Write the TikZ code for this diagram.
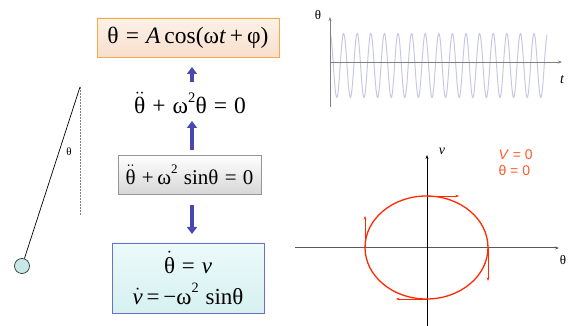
\documentclass[tikz,border=0pt]{standalone}
\usepackage{fontspec}
\setmainfont{Liberation Serif}
\newfontfamily\sfont{Liberation Sans}
\usetikzlibrary{arrows.meta,shadings}
\definecolor{arrblue}{HTML}{4848B0}
\definecolor{redc}{HTML}{FF2A00}
\definecolor{orangetxt}{HTML}{FF5A2A}
\definecolor{solborder}{RGB}{245,170,70}
\definecolor{soltop}{RGB}{253,242,232}
\definecolor{solbot}{RGB}{248,222,204}
\definecolor{nlborder}{RGB}{150,150,150}
\definecolor{nlbot}{RGB}{215,215,215}
\definecolor{sysborder}{RGB}{110,110,210}
\definecolor{systop}{RGB}{236,250,250}
\definecolor{sysbot}{RGB}{214,240,240}
\definecolor{bobfill}{RGB}{200,232,232}
\definecolor{bobdraw}{RGB}{40,60,60}
\definecolor{wavec}{RGB}{200,200,225}
\definecolor{axgray}{RGB}{90,90,90}
\newcommand\thdd{\ensuremath{\ddot{\hbox{θ}}}}
\newcommand\thd{\ensuremath{\dot{\hbox{θ}}}}
\newcommand\vd{\ensuremath{\dot{\hbox{\itshape v}}}}
\newcommand\sqr{\raisebox{0.5em}{\scalebox{0.62}{2}}}
\newcommand\gapsp{\hspace{0.3em}}
\tikzset{
  eqbox/.style={draw, line width=0.8pt, inner sep=0pt},
  bigarrow/.style={arrblue, line width=3.5pt, -{Triangle[width=10pt,length=7pt]}},
  axisarrow/.style={-{Stealth[length=4pt,width=3pt]}},
  redarrow/.style={redc, line width=0.5pt, -{Stealth[length=3.5pt,width=2.5pt]}},
}
\begin{document}
\begin{tikzpicture}[x=1pt,y=-1pt]
\useasboundingbox (0,0) rectangle (574,326);
% top box
\node[eqbox, draw=solborder, top color=soltop, bottom color=solbot, minimum width=182pt, minimum height=39pt, font=\fontsize{23.5}{26}\selectfont] (sol) at (188,37.5) {θ\gapsp=\gapsp\textit{A}\,cos(ω\textit{t}\,+\,φ)};
% linear eq
\node[font=\fontsize{23.5}{26}\selectfont] (lin) at (190,103) {\thdd\gapsp+\gapsp ω\sqr θ\gapsp=\gapsp0};
% gray box
\node[eqbox, draw=nlborder, top color=white, bottom color=nlbot, minimum width=143pt, minimum height=39pt, font=\fontsize{21}{24}\selectfont] (nl) at (189.5,174.5) {\thdd\gapsp+\,ω\sqr\gapsp sinθ\gapsp=\gapsp0};
% bottom box
\node[eqbox, draw=sysborder, top color=systop, bottom color=sysbot, minimum width=152pt, minimum height=70pt, align=center, font=\fontsize{23}{31}\selectfont] (sys) at (188,278) {\thd\gapsp=\gapsp\textit{v}\\ \vd\,=\,−ω\sqr\gapsp sinθ};
% arrows
\coordinate (a1s) at (192,82); \coordinate (a1e) at (192,67);
\draw[bigarrow] (a1s) -- (a1e);
\coordinate (a2s) at (192,150); \coordinate (a2e) at (192,121);
\draw[bigarrow] (a2s) -- (a2e);
\coordinate (a3s) at (192,205); \coordinate (a3e) at (192,234);
\draw[bigarrow] (a3s) -- (a3e);
% pendulum
\coordinate (piv) at (80,87);
\coordinate (vbot) at (80,215);
\draw[densely dotted, gray, line width=0.5pt] (piv) -- (vbot);
\node[circle, draw=bobdraw, fill=bobfill, line width=0.7pt, minimum size=15pt, inner sep=0pt] (bob) at (22,266) {};
\draw[line width=0.7pt] (piv) -- (bob);
\node[font=\fontsize{11}{12}\selectfont] (thl) at (69,152) {θ};
% time plot
\coordinate (tyb) at (330,107); \coordinate (tyt) at (330,17);
\coordinate (txl) at (330,62); \coordinate (txr) at (562,62);
\draw[wavec, line width=1pt] plot[domain=0:217, samples=500] ({330+\x}, {65.5 - 32*cos(26.47*\x)});
\draw[gray, line width=0.6pt, axisarrow] (tyb) -- (tyt);
\draw[gray, line width=0.6pt, axisarrow] (txl) -- (txr);
\node[font=\fontsize{13}{14}\selectfont] (tth) at (318,15) {θ};
\node[font=\fontsize{14}{14}\selectfont\itshape] (tt) at (562,80) {t};
% phase plot
\coordinate (pyb) at (427,326); \coordinate (pyt) at (427,155);
\coordinate (pxl) at (295,248); \coordinate (pxr) at (559,248);
\draw[axgray, line width=1pt, axisarrow] (pxl) -- (pxr);
\draw[black, line width=0.7pt, axisarrow] (pyb) -- (pyt);
\node[font=\fontsize{14}{14}\selectfont\itshape] (pv) at (442,151) {v};
\node[font=\fontsize{13}{14}\selectfont] (pth) at (563,260) {θ};
\coordinate (c) at (426.5,247.5);
\draw[redc, line width=1.3pt] (c) ellipse [x radius=61.5, y radius=51.5];
\coordinate (et) at (427,196); \coordinate (etr) at (459,196);
\coordinate (er) at (488,248); \coordinate (erb) at (488,281);
\coordinate (eb) at (427,299); \coordinate (ebl) at (396,299);
\coordinate (el) at (365,248); \coordinate (elt) at (365,216);
\draw[redarrow] (et) -- (etr);
\draw[redarrow] (er) -- (erb);
\draw[redarrow] (eb) -- (ebl);
\draw[redarrow] (el) -- (elt);
\node[font=\sfont\fontsize{14}{15}\selectfont, text=orangetxt, anchor=west] (vz) at (495,155) {\textit{V} = 0};
\node[font=\sfont\fontsize{14}{15}\selectfont, text=orangetxt, anchor=west] (tz) at (495,171) {θ = 0};
\end{tikzpicture}
\end{document}
